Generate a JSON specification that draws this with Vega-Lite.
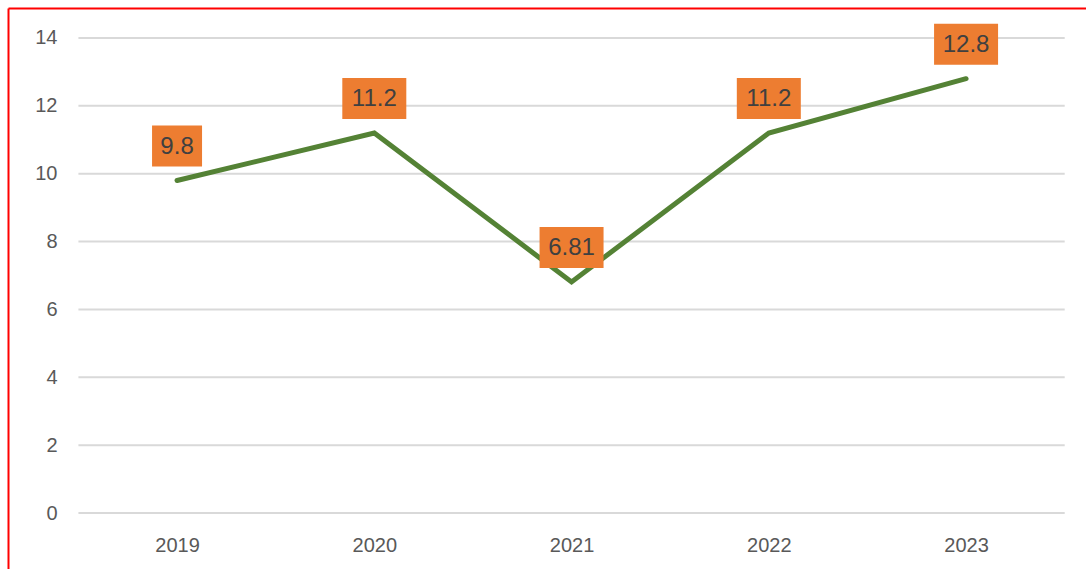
{
  "$schema": "https://vega.github.io/schema/vega-lite/v6.json",
  "autosize": {"type": "none"},
  "padding": {"left": 8, "top": 8, "right": 0, "bottom": 0},
  "width": 1078,
  "height": 561,
  "background": "#ffffff",
  "config": {"view": {"stroke": null}, "font": "Liberation Sans"},
  "datasets": {
    "main": [
      {"year": 2019, "value": 9.8},
      {"year": 2020, "value": 11.2},
      {"year": 2021, "value": 6.81},
      {"year": 2022, "value": 11.2},
      {"year": 2023, "value": 12.8}
    ],
    "grid": [
      {"g": 0}, {"g": 2}, {"g": 4}, {"g": 6}, {"g": 8}, {"g": 10}, {"g": 12}, {"g": 14}
    ]
  },
  "resolve": {"axis": {"x": "independent", "y": "independent"}},
  "layer": [
    {
      "data": {"name": "grid"},
      "mark": {"type": "rule", "color": "#d9d9d9", "strokeWidth": 2},
      "encoding": {
        "x": {
          "datum": 2018.5, "type": "quantitative",
          "scale": {"domain": [2018.143, 2023.608], "nice": false, "zero": false},
          "axis": {"orient": "top", "labels": false, "ticks": false, "grid": false, "title": null,
                   "domain": true, "domainColor": "#ff0000", "domainWidth": 2}
        },
        "x2": {"datum": 2023.5},
        "y": {
          "field": "g", "type": "quantitative",
          "scale": {"domain": [-1.65, 14.884], "nice": false, "zero": false},
          "axis": {"orient": "left", "values": [0, 2, 4, 6, 8, 10, 12, 14], "title": null,
                   "grid": false, "ticks": false, "tickSize": 0,
                   "domain": true, "domainColor": "#ff0000", "domainWidth": 2,
                   "labelPadding": -49, "labelAlign": "right", "labelBaseline": "middle",
                   "labelFontSize": 20, "labelColor": "#595959", "labelFont": "Liberation Sans",
                   "labelOverlap": false, "labelFlush": false}
        }
      }
    },
    {
      "data": {"name": "main"},
      "mark": {"type": "line", "color": "#548235", "strokeWidth": 5, "strokeCap": "round", "strokeJoin": "miter"},
      "encoding": {
        "x": {
          "field": "year", "type": "quantitative",
          "scale": {"domain": [2018.143, 2023.608], "nice": false, "zero": false},
          "axis": {"orient": "bottom", "values": [2019, 2020, 2021, 2022, 2023], "format": "d", "title": null,
                   "grid": false, "ticks": false, "tickSize": 0, "domain": false,
                   "labelPadding": -24, "labelBaseline": "middle", "labelAlign": "center",
                   "labelFontSize": 20, "labelColor": "#595959", "labelFont": "Liberation Sans",
                   "labelOverlap": false, "labelFlush": false}
        },
        "y": {
          "field": "value", "type": "quantitative",
          "scale": {"domain": [-1.65, 14.884], "nice": false, "zero": false},
          "axis": null
        }
      }
    },
    {
      "data": {"name": "main"},
      "transform": [{"filter": "datum.year != 2019"}],
      "mark": {"type": "point", "shape": "M-1,-0.640625L1,-0.640625L1,0.640625L-1,0.640625Z",
               "size": 4096, "filled": true, "color": "#ed7d31", "opacity": 1, "yOffset": -34.5},
      "encoding": {
        "x": {"field": "year", "type": "quantitative",
              "scale": {"domain": [2018.143, 2023.608], "nice": false, "zero": false}, "axis": null},
        "y": {"field": "value", "type": "quantitative",
              "scale": {"domain": [-1.65, 14.884], "nice": false, "zero": false}, "axis": null}
      }
    },
    {
      "data": {"name": "main"},
      "transform": [{"filter": "datum.year == 2019"}],
      "mark": {"type": "point", "shape": "M-1,-0.82L1,-0.82L1,0.82L-1,0.82Z",
               "size": 2500, "filled": true, "color": "#ed7d31", "opacity": 1, "yOffset": -34.5},
      "encoding": {
        "x": {"field": "year", "type": "quantitative",
              "scale": {"domain": [2018.143, 2023.608], "nice": false, "zero": false}, "axis": null},
        "y": {"field": "value", "type": "quantitative",
              "scale": {"domain": [-1.65, 14.884], "nice": false, "zero": false}, "axis": null}
      }
    },
    {
      "data": {"name": "main"},
      "mark": {"type": "text", "fontSize": 24, "color": "#404040", "font": "Liberation Sans",
               "baseline": "middle", "align": "center", "yOffset": -33.5},
      "encoding": {
        "x": {"field": "year", "type": "quantitative",
              "scale": {"domain": [2018.143, 2023.608], "nice": false, "zero": false}, "axis": null},
        "y": {"field": "value", "type": "quantitative",
              "scale": {"domain": [-1.65, 14.884], "nice": false, "zero": false}, "axis": null},
        "text": {"field": "value", "type": "nominal"}
      }
    }
  ]
}
